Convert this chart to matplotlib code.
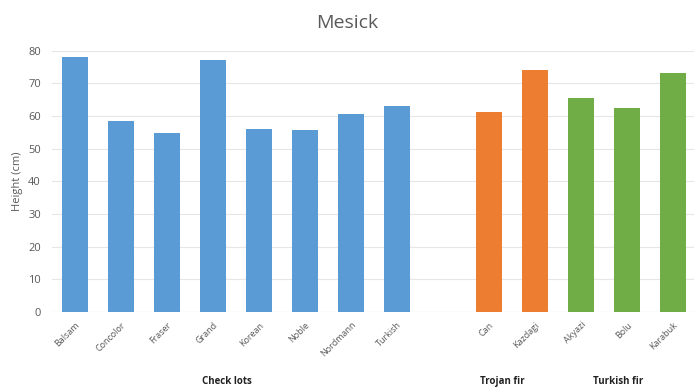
import matplotlib
matplotlib.use("Agg")
import matplotlib.pyplot as plt
import numpy as np

plt.rcParams['font.family'] = ['Open Sans', 'DejaVu Sans']

check_names = ["Balsam", "Concolor", "Fraser", "Grand", "Korean", "Noble", "Nordmann", "Turkish"]
check_vals = [78.2, 58.4, 54.8, 77.1, 56.0, 55.7, 60.6, 63.2]
trojan_names = ["Can", "Kazdagi"]
trojan_vals = [61.4, 74.2]
turkish_names = ["Akyazi", "Bolu", "Karabuk"]
turkish_vals = [65.5, 62.5, 73.1]
groups = ["Check lots", "Trojan fir", "Turkish fir"]

fig = plt.figure(figsize=(6.94, 3.91), dpi=100)
ax = fig.add_axes([0.075, 0.202, 0.928, 0.668])

x_check = np.arange(len(check_names))
x_trojan = np.arange(len(trojan_names)) + len(check_names) + 1
x_turk = np.arange(len(turkish_names)) + x_trojan[-1] + 1

w = 0.58
ax.bar(x_check, check_vals, w, color="#5B9BD5", zorder=3)
ax.bar(x_trojan, trojan_vals, w, color="#ED7D31", zorder=3)
ax.bar(x_turk, turkish_vals, w, color="#70AD47", zorder=3)

ax.set_xlim(-0.5, x_turk[-1] + 0.5)
ax.set_ylim(0, 80)
ax.set_yticks(range(0, 81, 10))
ax.yaxis.grid(True, color="#e6e6e6", linewidth=0.8, zorder=0)
for s in ax.spines.values():
    s.set_visible(False)
ax.axhline(0, color="#d9d9d9", linewidth=0.8, zorder=2)
ax.tick_params(axis='y', length=0, labelsize=8, labelcolor="#595959", pad=8)
ax.tick_params(axis='x', length=0, labelsize=6.5, labelcolor="#595959", pad=6)

xs = list(x_check) + list(x_trojan) + list(x_turk)
ax.set_xticks(xs)
ax.set_xticklabels(check_names + trojan_names + turkish_names, rotation=45,
                   ha='right', rotation_mode='anchor')

ax.set_ylabel("Height (cm)", fontsize=8, color="#595959", labelpad=4)
fig.text(0.5, 0.94, "Mesick", ha='center', va='center', fontsize=14, color="#595959")

for name, xx in zip(groups, [x_check, x_trojan, x_turk]):
    ax.text(np.mean(xx) - 0.2, -0.265, name, transform=ax.get_xaxis_transform(),
            ha='center', va='center', fontsize=7, fontweight='bold', color="#222222")

fig.savefig("out.png", dpi=100)
